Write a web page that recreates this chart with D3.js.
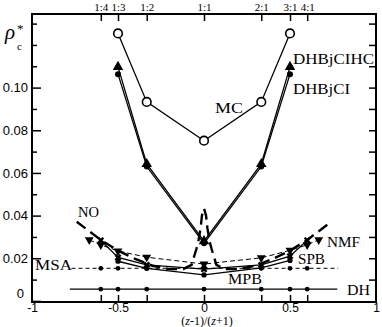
<!DOCTYPE html>
<html>
<head>
<meta charset="utf-8">
<script src="https://cdn.jsdelivr.net/npm/d3@7"></script>
<style>
  body { margin: 0; background: #fff; }
  .serif { font-family: "Liberation Serif", "DejaVu Serif", serif; }
  .axis text { font-family: "Liberation Sans", Arial, sans-serif; font-size: 13px; fill: #000; }
  .axis line { stroke: #000; stroke-width: 1.5; }
  .axis path { display: none; }
</style>
</head>
<body>
<script>
var w = 382;
var h = 327;
var margin = {top: 14, right: 6, bottom: 25, left: 32};

// top axis: composition ratios and their positions
var ratioLabels = ["1:4", "1:3", "1:2", "1:1", "2:1", "3:1", "4:1"];
var ratioX = [-0.6, -0.5, -0.333, 0, 0.333, 0.5, 0.6];
var xTicks = [-1, -0.5, 0, 0.5, 1];
var yMajor = [0, 0.02, 0.04, 0.06, 0.08, 0.10];
var yMinor = [0.01, 0.03, 0.05, 0.07, 0.09, 0.11, 0.12, 0.13];
var yRight = [0.01, 0.02, 0.03, 0.04, 0.05, 0.06, 0.07, 0.08, 0.09, 0.10, 0.11, 0.12, 0.13];

// series
var mcX = [-0.5, -0.333, 0, 0.333, 0.5];
var mcY = [0.1254, 0.0933, 0.0751, 0.0933, 0.1254];
var hcY = [0.1097, 0.0642, 0.0280, 0.0642, 0.1097];   // DHBjCIHC
var ciY = [0.1063, 0.0630, 0.0270, 0.0630, 0.1063];   // DHBjCI

var noX = [-0.74, -0.6, -0.5, -0.4, -0.3, -0.2, -0.12, -0.072, -0.043, -0.033, -0.02, -0.012, 0,
           0.012, 0.02, 0.033, 0.043, 0.072, 0.12, 0.2, 0.3, 0.4, 0.5, 0.6, 0.74];
var noY = [0.0371, 0.0286, 0.0236, 0.0197, 0.0165, 0.0149, 0.0150, 0.0169, 0.0247, 0.0278, 0.0340, 0.0400, 0.0434,
           0.0400, 0.0340, 0.0278, 0.0247, 0.0169, 0.0150, 0.0149, 0.0165, 0.0197, 0.0236, 0.0286, 0.0371];

var nmfX = [-0.667, -0.6, -0.5, -0.333, 0, 0.333, 0.5, 0.6, 0.667];
var nmfY = [0.0286, 0.0263, 0.0234, 0.0205, 0.0173, 0.0202, 0.0237, 0.0263, 0.0286];

var spbX = [-0.6, -0.5, -0.333, 0, 0.333, 0.5, 0.6];
var spbY = [0.0284, 0.0204, 0.0169, 0.0149, 0.0169, 0.0210, 0.0284];

var mpbX = [-0.5, -0.333, 0, 0.333, 0.5];
var mpbY = [0.0186, 0.0153, 0.0122, 0.0155, 0.0190];

var msaY = 0.0153;
var msaEnds = [-0.77, 0.78];
var dhY = 0.0055;
var dhEnds = [-0.78, 0.775];

var x = d3.scaleLinear().domain([-1, 1]).range([margin.left, w - margin.right]);
var y = d3.scaleLinear().domain([-0.0005, 0.1345]).range([h - margin.bottom, margin.top]);

var svg = d3.select("body").append("svg")
    .attr("width", w)
    .attr("height", h);

// axes (ticks drawn inward)
svg.append("g").attr("class", "axis")
   .attr("transform", "translate(" + margin.left + ",0)")
   .call(d3.axisLeft(y).tickValues(yMajor).tickSize(-9).tickPadding(4)
     .tickFormat(function(d) { return d === 0 ? "0" : d3.format(".2f")(d); }))
   .selectAll("text")
   .attr("x", function(d) { return d === 0 ? -8 : -4; })
   .attr("dy", function(d) { return d === 0 ? "-0.25em" : "0.32em"; });

svg.append("g").attr("class", "axis")
   .attr("transform", "translate(" + margin.left + ",0)")
   .call(d3.axisLeft(y).tickValues(yMinor).tickSize(-5).tickFormat(""));

svg.append("g").attr("class", "axis")
   .attr("transform", "translate(" + (w - margin.right) + ",0)")
   .call(d3.axisRight(y).tickValues(yRight).tickSize(-7).tickFormat(""));

svg.append("g").attr("class", "axis")
   .attr("transform", "translate(0," + margin.top + ")")
   .call(d3.axisTop(x).tickValues(ratioX).tickSize(-7).tickPadding(3)
     .tickFormat(function(d, i) { return ratioLabels[i]; }))
   .selectAll("text")
   .style("font-family", "'Liberation Serif', serif")
   .style("font-size", "11px");

svg.append("g").attr("class", "axis")
   .attr("transform", "translate(0," + (h - margin.bottom) + ")")
   .call(d3.axisBottom(x).tickValues(ratioX).tickSize(-7).tickFormat(""));

svg.append("g").attr("class", "axis")
   .attr("transform", "translate(0," + (h - margin.bottom) + ")")
   .call(d3.axisBottom(x).tickValues(xTicks).tickSize(0).tickPadding(1)
     .tickFormat(function(d) { return d === 0 ? "0" : String(d); }))
   .selectAll("text")
   .style("font-size", "12px");

// frame
svg.append("rect")
   .attr("x", margin.left).attr("y", margin.top)
   .attr("width", w - margin.left - margin.right)
   .attr("height", h - margin.top - margin.bottom)
   .attr("fill", "none").attr("stroke", "#000").attr("stroke-width", 2);

function pts(xs, ys) {
  return xs.map(function(d, i) { return [d, ys[i]]; });
}
var line = d3.line().x(function(d) { return x(d[0]); }).y(function(d) { return y(d[1]); });

function drawLine(data, width, dash) {
  svg.append("path").datum(data)
     .attr("d", line)
     .attr("fill", "none")
     .attr("stroke", "#000")
     .attr("stroke-width", width)
     .attr("stroke-dasharray", dash || null);
}
function drawDots(data, r) {
  svg.append("g").selectAll("circle").data(data).enter().append("circle")
     .attr("cx", function(d) { return x(d[0]); })
     .attr("cy", function(d) { return y(d[1]); })
     .attr("r", r)
     .attr("fill", "#000");
}
function drawSymbol(data, type, size, rot) {
  svg.append("g").selectAll("path").data(data).enter().append("path")
     .attr("d", d3.symbol().type(type).size(size))
     .attr("transform", function(d) {
       return "translate(" + x(d[0]) + "," + y(d[1]) + ") rotate(" + rot + ")";
     })
     .attr("fill", "#000");
}

// DH
drawLine(pts(dhEnds, [dhY, dhY]), 1.3);
drawDots(pts(ratioX, ratioX.map(function() { return dhY; })), 2.4);

// MSA
drawLine(pts(msaEnds, [msaY, msaY]), 1, "4,3");
drawDots(pts(ratioX, ratioX.map(function() { return msaY; })), 2.4);

// MPB
drawLine(pts(mpbX, mpbY), 1.3);
drawDots(pts(mpbX, mpbY), 2.6);

// SPB
drawLine(pts(spbX, spbY), 1.3);
drawSymbol(pts(spbX, spbY), d3.symbolCross, 30, 45);

// NMF
drawLine(pts(nmfX, nmfY), 1, "5,3");
drawSymbol(pts(nmfX, nmfY), d3.symbolTriangle, 34, 180);

// NO
drawLine(pts(noX, noY), 2.4, "11,6");

// DHBjCIHC and DHBjCI
drawLine(pts(mcX, hcY), 1.3);
drawLine(pts(mcX, ciY), 1.3);
drawSymbol(pts(mcX, hcY), d3.symbolTriangle, 48, 0);
drawDots(pts(mcX, ciY), 3);

// MC
drawLine(pts(mcX, mcY), 1.3);
svg.append("g").selectAll("circle").data(pts(mcX, mcY)).enter().append("circle")
   .attr("cx", function(d) { return x(d[0]); })
   .attr("cy", function(d) { return y(d[1]); })
   .attr("r", 4.3)
   .attr("fill", "#fff")
   .attr("stroke", "#000")
   .attr("stroke-width", 1.6);

// series labels
var labels = [
  {t: "MC", x: 215, y: 113, len: 28},
  {t: "DHBjCIHC", x: 293, y: 64, len: 81},
  {t: "DHBjCI", x: 293, y: 94, len: 57},
  {t: "NO", x: 78, y: 217, len: 21},
  {t: "NMF", x: 327, y: 247, len: 33},
  {t: "SPB", x: 298, y: 264, len: 27},
  {t: "MPB", x: 228, y: 284, len: 34},
  {t: "MSA", x: 35, y: 270, len: 37},
  {t: "DH", x: 347, y: 295, len: 23}
];
svg.append("g").selectAll("text").data(labels).enter().append("text")
   .attr("class", "serif")
   .attr("x", function(d) { return d.x; })
   .attr("y", function(d) { return d.y; })
   .attr("font-size", "15px")
   .attr("textLength", function(d) { return d.len; })
   .attr("lengthAdjust", "spacingAndGlyphs")
   .text(function(d) { return d.t; });

// axis titles
var xt = svg.append("text").attr("class", "serif")
   .attr("x", x(0) + 3).attr("y", 325).attr("text-anchor", "middle").attr("font-size", "12px");
xt.append("tspan").text("(");
xt.append("tspan").attr("font-style", "italic").text("z");
xt.append("tspan").text("-1)/(");
xt.append("tspan").attr("font-style", "italic").text("z");
xt.append("tspan").text("+1)");

svg.append("text").attr("class", "serif").attr("x", 5).attr("y", 39)
   .attr("font-style", "italic").attr("font-size", "21px").text("\u03c1");
svg.append("text").attr("class", "serif").attr("x", 17).attr("y", 33)
   .attr("font-size", "13px").text("*");
svg.append("text").attr("class", "serif").attr("x", 17).attr("y", 50)
   .attr("font-size", "11px").text("c");
</script>
</body>
</html>
